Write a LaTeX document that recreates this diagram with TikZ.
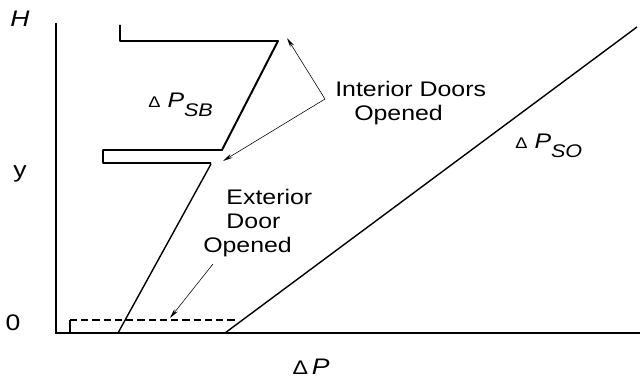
\documentclass[tikz,border=0pt]{standalone}
\usepackage{fontspec}
\setmainfont[FakeStretch=1.18]{Liberation Sans}
\usetikzlibrary{
  arrows.meta % For arrow tips
}

% pressure difference label: Delta P with lowered subscript
\newcommand{\dpress}[1]{{\fontsize{11}{11}\selectfont Δ}\,\,{\itshape P}\raisebox{-0.75ex}{\fontsize{13}{13}\selectfont\itshape #1}}

\begin{document}
\begin{tikzpicture}[
      x=0.025cm, y=-0.025cm, % one unit = one pixel of the sketch
      >=Stealth, % Default arrow tip
      axis/.style={line width=1.6pt}, % Style for the axes
      stepline/.style={line width=1.4pt, line join=round}, % Style for the door steps
      curve/.style={line width=1pt}, % Style for the pressure lines
      pointer/.style={thin, -{Stealth[length=7pt, width=3pt]}}, % Style for the callouts
      lbl/.style={inner sep=0pt, font=\fontsize{15}{17}\selectfont},
      axlbl/.style={inner sep=0pt, font=\fontsize{16}{16}\selectfont},
    ]

    \useasboundingbox (0,0) rectangle (640,381);

    % Achsen
    \coordinate (O) at (56,333);
    \draw[axis] (56,23) -- (O) -- (640,333);

    \node[axlbl] (lblH) at (20,19) {\itshape H};
    \node[axlbl] (lbly) at (20,174) {y};
    \node[axlbl] (lbl0) at (13,323) {0};
    \node[axlbl] (lblDP) at (311,367) {{\fontsize{14}{14}\selectfont Δ}\,{\itshape P}};

    % Innentueren offen
    \draw[stepline] (120,25) -- (120,41) -- (278,41) -- (222,150)
      -- (103,150) -- (103,163) -- (211,163);
    \draw[curve] (211,164) -- (118,333);

    % Aussentuer offen
    \draw[thick] (70,333) -- (70,320);
    \draw[thick, dash pattern=on 5pt off 3pt] (70,320) -- (237,320);
    \draw[curve] (225,333) -- (637,27);

    \node[lbl, anchor=west] (lblSB) at (148,105) {\dpress{SB}};
    \node[lbl, anchor=west] (lblSO) at (515,146) {\dpress{SO}};

    \node[lbl, align=left, anchor=north west] (intdoors) at (335,81)
      {Interior Doors\\\hspace*{0.9em}Opened};
    \node[lbl, align=left, anchor=north west] (extdoor) at (203,189)
      {\hspace*{1.1em}Exterior\\\hspace*{1.1em}Door\\Opened};

    % Hinweispfeile
    \coordinate (meet) at (325,99);
    \coordinate (topcorner) at (287,38);
    \coordinate (midgap) at (223,161);
    \coordinate (extfoot) at (213,264);
    \coordinate (dashmark) at (170,318);
    \draw[pointer] (meet) -- (topcorner);
    \draw[pointer] (meet) -- (midgap);
    \draw[pointer] (extfoot) -- (dashmark);

  \end{tikzpicture}
\end{document}
